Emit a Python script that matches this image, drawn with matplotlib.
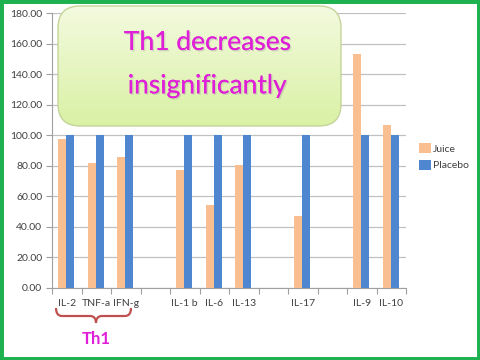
import numpy as np
import matplotlib
matplotlib.use('Agg')
import matplotlib.pyplot as plt
import matplotlib.patches as mpatches
import matplotlib.transforms as mtransforms
import matplotlib.patheffects as pe
from matplotlib.path import Path

# data (blank slots are gaps on the axis)
categories = ['IL-2', 'TNF-a', 'IFN-g', '', 'IL-1 b', 'IL-6', 'IL-13', '', 'IL-17', '', 'IL-9', 'IL-10']
juice = [97.5, 81.5, 86.0, np.nan, 77.0, 54.0, 80.5, np.nan, 47.0, np.nan, 153.5, 107.0]
placebo = [100, 100, 100, np.nan, 100, 100, 100, np.nan, 100, np.nan, 100, 100]
yticks = np.arange(0, 181, 20)

plt.rcParams['font.family'] = ['Lato', 'DejaVu Sans']

fig = plt.figure(figsize=(4.8, 3.6), dpi=100)
fig.patch.set_facecolor('white')
ax = fig.add_axes([52/480, 1-287.7/360, (406-52)/480, (287.7-13.3)/360])

x = np.arange(len(categories))
w = 0.275
ax.bar(x + 0.48 - w/2, juice, w, color='#f9bf90', label='Juice', zorder=3)
ax.bar(x + 0.48 + w/2, placebo, w, color='#4f86d0', label='Placebo', zorder=3)

ax.set_xlim(0, len(categories))
ax.set_ylim(0, 180)
ax.set_yticks(yticks)
ax.set_yticklabels(['%.2f' % v for v in yticks], fontsize=7.5, color='#404040')
ax.set_xticks(np.arange(len(categories) + 1))
ax.set_xticklabels([])
ax.set_xticks(x + 0.5, minor=True)
ax.set_xticklabels(categories, minor=True, fontsize=7.5, color='#404040')
ax.tick_params(axis='x', which='minor', length=0, pad=8)
ax.tick_params(axis='x', which='major', length=4, color='#a0a0a0')
ax.tick_params(axis='y', length=4, color='#a0a0a0', pad=3)
ax.grid(axis='y', color='#c0c0c0', lw=0.9, zorder=0)
for s in ['top', 'right']:
    ax.spines[s].set_visible(False)
for s in ['left', 'bottom']:
    ax.spines[s].set_color('#a0a0a0')

fig.legend(loc='upper left', bbox_to_anchor=(410/480, 1-134/360), frameon=False,
           fontsize=7.5, handlelength=1.1, handleheight=1.1, handletextpad=0.2,
           labelspacing=0.55, labelcolor='#404040')

# rounded callout box with green gradient
bx0, by0, bw, bh = 0.56, (360-128)/100, 2.87, 1.24
bx = fig.add_axes([bx0/4.8, by0/3.6, bw/4.8, bh/3.6])
bx.set_xlim(0, bw)
bx.set_ylim(0, bh)
bx.axis('off')
box = mpatches.FancyBboxPatch((0.02, 0.02), bw-0.04, bh-0.04,
                              boxstyle='round,pad=0,rounding_size=0.22',
                              fc='none', ec='#c5d49a', lw=1.0, zorder=3)
bx.add_patch(box)
grad = np.linspace(0, 1, 100)[:, None]
cmap = matplotlib.colors.LinearSegmentedColormap.from_list('g', ['#d9f1a4', '#f4fae0'])
im = bx.imshow(grad, extent=(0, bw, 0, bh), origin='lower', cmap=cmap, aspect='auto', zorder=1)
im.set_clip_path(box)
shadow = [pe.withSimplePatchShadow(offset=(1, -1), shadow_rgbFace='#999999', alpha=0.35), pe.Normal()]
bx.text(bw/2+0.08, bh*0.69, 'Th1 decreases', ha='center', va='center', fontsize=19,
        color='#e020d8', zorder=4, path_effects=shadow)
bx.text(bw/2+0.08, bh*0.34, 'insignificantly', ha='center', va='center', fontsize=19,
        color='#e020d8', zorder=4, path_effects=shadow)

# bracket under the Th1 group
px = mtransforms.Affine2D().scale(1/480, -1/360).translate(0, 1) + fig.transFigure
verts = [(56, 308), (56, 316), (62, 316), (90, 316), (96, 316), (96, 323),
         (96, 316), (102, 316), (125, 316), (131, 316), (131, 308)]
codes = [Path.MOVETO, Path.CURVE3, Path.CURVE3, Path.LINETO, Path.CURVE3, Path.CURVE3,
         Path.CURVE3, Path.CURVE3, Path.LINETO, Path.CURVE3, Path.CURVE3]
fig.patches.append(mpatches.PathPatch(Path(verts, codes), fc='none', ec='#c0504d',
                                      lw=1.6, transform=px))
fig.text(96/480, 1-339/360, 'Th1', ha='center', va='center', fontsize=12,
         fontweight='bold', color='#e020d8')

# green frame
fig.patches.append(mpatches.Rectangle((0, 0), 1, 1, transform=fig.transFigure,
                                      fc='none', ec='#1db14f', lw=5))

fig.savefig('out.png', dpi=100)
